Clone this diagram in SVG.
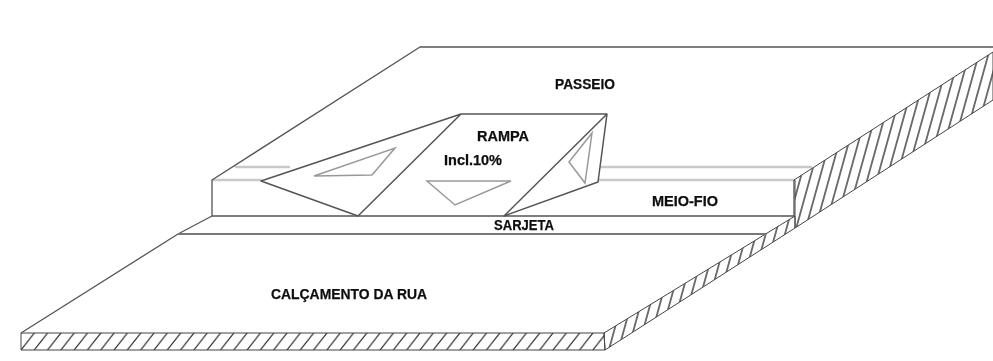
<svg xmlns="http://www.w3.org/2000/svg" width="993" height="361" viewBox="0 0 993 361">
<style>
.e{fill:none;stroke:#555;stroke-width:1.3;stroke-linejoin:round}
.g{fill:none;stroke:#c9c9c9;stroke-width:2.4}
.m{fill:none;stroke:#999;stroke-width:1.5}
.h{stroke:#444;stroke-width:1;stroke-linejoin:round}
text{font-family:"Liberation Sans",Arial,sans-serif;font-weight:bold;font-size:14px;fill:#111;stroke:#111;stroke-width:0.25;filter:url(#b)}
</style>
<defs>
<filter id="b" x="-5%" y="-20%" width="110%" height="140%"><feGaussianBlur stdDeviation="0.35"/></filter>
<pattern id="h1" patternUnits="userSpaceOnUse" x="21" y="350" width="13.3" height="17"><path d="M0 17L13.3 0M-1 1.3L1 -1.3M12.3 18.3L14.3 15.7" stroke="#333" stroke-width="1.2"/></pattern>
<pattern id="h2" patternUnits="userSpaceOnUse" width="9.6" height="100" patternTransform="translate(604 350) skewX(-15.5)"><path d="M4.8 0V100" stroke="#111" stroke-width="1.2"/></pattern>
</defs>
<rect width="993" height="361" fill="#fff"/>
<g id="faixas">
<path class="g" d="M235 167H290M600 167H812M212 180H262M598 180H794"/>
<path class="h" fill="url(#h2)" d="M794 180L993 52V100L795 228L795 216V180Z"/>
<path class="h" fill="url(#h2)" d="M604 333L795 216V228L605 350Z"/>
<path class="h" fill="url(#h1)" d="M21 333H604L605 350H21Z"/>
</g>
<g id="superficies">
<path class="e" d="M993 47H420L212 180V216L178 234L21 333"/>
<path class="e" d="M212 216H794V180"/>
<path class="e" style="stroke:#777;stroke-width:1.8" d="M178 234H766"/>
</g>
<g id="rampa">
<path class="e" style="stroke-width:1.5" d="M461 114H607L504 216L598 182L607 114M261 181L461 114L358 216Z"/>
<path class="m" d="M314 176L395 148L372 175Z"/>
<path class="m" d="M427 181H511L455 205Z"/>
<path class="m" d="M592 133L569 162L585 183Z"/>
</g>
<g id="rotulos">
<text x="555" y="89" textLength="60" lengthAdjust="spacingAndGlyphs">PASSEIO</text>
<text x="477" y="141" textLength="52" lengthAdjust="spacingAndGlyphs">RAMPA</text>
<text x="444" y="165" textLength="58" lengthAdjust="spacingAndGlyphs">Incl.10%</text>
<text x="652" y="206" textLength="66" lengthAdjust="spacingAndGlyphs">MEIO-FIO</text>
<text x="494" y="230" textLength="60" lengthAdjust="spacingAndGlyphs">SARJETA</text>
<text x="271" y="299" textLength="156" lengthAdjust="spacingAndGlyphs">CALÇAMENTO DA RUA</text>
</g>
</svg>
